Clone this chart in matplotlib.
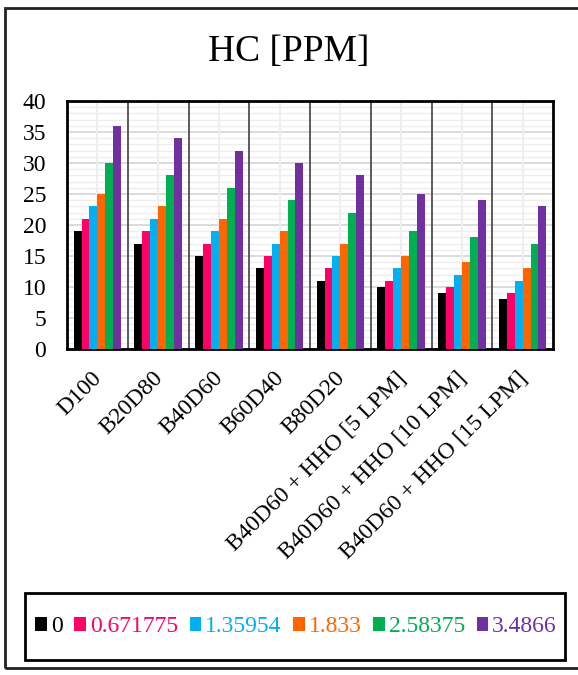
import numpy as np
import matplotlib.pyplot as plt
from matplotlib.patches import Rectangle
from matplotlib.transforms import ScaledTranslation

plt.rcParams['font.family'] = ['Liberation Serif', 'DejaVu Serif']

categories = ["D100", "B20D80", "B40D60", "B60D40", "B80D20",
              "B40D60 + HHO [5 LPM]", "B40D60 + HHO [10 LPM]", "B40D60 + HHO [15 LPM]"]
series_names = ["0", "0.671775", "1.35954", "1.833", "2.58375", "3.4866"]
colors = ["#000000", "#ff0066", "#00b0f0", "#ff6600", "#00b050", "#7030a0"]

s0 = [19, 17, 15, 13, 11, 10, 9, 8]
s1 = [21, 19, 17, 15, 13, 11, 10, 9]
s2 = [23, 21, 19, 17, 15, 13, 12, 11]
s3 = [25, 23, 21, 19, 17, 15, 14, 13]
s4 = [30, 28, 26, 24, 22, 19, 18, 17]
s5 = [36, 34, 32, 30, 28, 25, 24, 23]
values = [s0, s1, s2, s3, s4, s5]

fig = plt.figure(figsize=(5.78, 6.75), dpi=100)
ax = fig.add_axes([67/578, 1 - 349/675, (553-67)/578, (349-101)/675])
ax.set_axisbelow(True)

x = np.arange(len(categories))
w = 0.13
for i, vals in enumerate(values):
    ax.bar(x + (i - 2.5) * w, vals, w, color=colors[i], label=series_names[i], zorder=3)

ax.set_xlim(-0.5, len(categories) - 0.5)
ax.set_ylim(0, 40)
ax.set_yticks(range(0, 41, 5))
ax.set_yticks(range(0, 41, 1), minor=True)
ax.yaxis.grid(True, which='minor', color='#eeeeee', lw=1)
ax.yaxis.grid(True, which='major', color='#d4d4d4', lw=1.2)
for c in x:
    ax.axvline(c, color='#eeeeee', lw=1.5, zorder=1)
for b in np.arange(0.5, len(categories) - 1, 1):
    ax.axvline(b, color='#404040', lw=1.2, zorder=2)

ax.set_xticks(x)
ax.set_xticklabels(categories, rotation=45, ha='right', va='top',
                   rotation_mode='anchor', fontsize=17)
ax.tick_params(axis='x', length=0, pad=12)
ax.tick_params(axis='y', which='both', length=0, labelsize=17, pad=15)
# nudge rotated labels a bit left
shift = ScaledTranslation(-0.06, -0.02, fig.dpi_scale_trans)
for lbl in ax.get_xticklabels():
    lbl.set_transform(lbl.get_transform() + shift)
for sp in ax.spines.values():
    sp.set_linewidth(2)

fig.text(0.5, 1 - 52/675, "HC [PPM]", ha='center', va='center', fontsize=27)

leg = fig.legend(loc='center', bbox_to_anchor=(296/578, 1 - 627/675), ncol=6,
                 fontsize=17, frameon=False, handlelength=0.5, handleheight=0.5,
                 handletextpad=0.15, columnspacing=0.5)
for t, c in zip(leg.get_texts(), colors):
    t.set_color(c)

fig.patches.append(Rectangle((25/578, 1 - 660/675), 540/578, 67/675, transform=fig.transFigure,
                             fill=False, edgecolor='black', lw=2))
fig.patches.append(Rectangle((5/578, 1 - 668/675), 575/578, 660/675, transform=fig.transFigure,
                             fill=False, edgecolor='#222222', lw=2))

fig.savefig("out.png", dpi=100)
